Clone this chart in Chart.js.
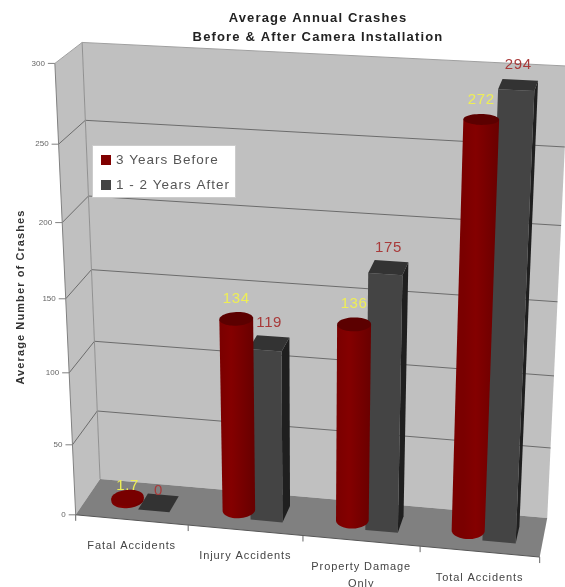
<!DOCTYPE html>
<html>
<head>
<meta charset="utf-8">
<title>Average Annual Crashes</title>
<script src="https://cdn.jsdelivr.net/npm/chart.js@4"></script>
<style>
  html, body { margin: 0; background: #fff; }
  canvas { display: block; }
</style>
</head>
<body>
<canvas id="myChart" width="565" height="587"></canvas>
<script>
// Chart data
const categories = ['Fatal Accidents', 'Injury Accidents', ['Property Damage', 'Only'], 'Total Accidents'];
const yearsBefore = [1.7, 134, 136, 272];
const yearsAfter = [0, 119, 175, 294];
const seriesNames = ['3 Years Before', '1 - 2 Years After'];
const chartTitle = ['Average Annual Crashes', 'Before & After Camera Installation'];
const yAxisTitle = 'Average Number of Crashes';

const FONT = '"Liberation Sans", Arial, sans-serif';

// Camera: box corners (u along categories, v up the value axis, w into the page) and where they land
const anchors = [
  [0, 0, 0, 76, 515], [1, 0, 0, 539, 557], [0, 1, 0, 56, 62],
  [0, 0, 1, 100, 478], [1, 0, 1, 547, 518], [0, 1, 1, 82, 43], [1, 1, 1, 567, 66],
  [0, .5, 0, 65, 300], [0, .5, 1, 91, 270], [1, .5, 1, 560, 302]
];

// Least squares fit of the 3x4 projection matrix
function solveCamera(points) {
  const n = 11;
  const A = Array.from({ length: n }, () => new Array(n + 1).fill(0));
  const addRow = (row, b) => {
    for (let i = 0; i < n; i++) {
      for (let j = 0; j < n; j++) A[i][j] += row[i] * row[j];
      A[i][n] += row[i] * b;
    }
  };
  points.forEach(([u, v, w, px, py]) => {
    const x = px / 500, y = py / 500;
    addRow([u, v, w, 1, 0, 0, 0, 0, -x * u, -x * v, -x * w], x);
    addRow([0, 0, 0, 0, u, v, w, 1, -y * u, -y * v, -y * w], y);
  });
  for (let c = 0; c < n; c++) {
    let best = c;
    for (let r = c + 1; r < n; r++) if (Math.abs(A[r][c]) > Math.abs(A[best][c])) best = r;
    [A[c], A[best]] = [A[best], A[c]];
    for (let r = 0; r < n; r++) {
      if (r === c) continue;
      const f = A[r][c] / A[c][c];
      for (let k = c; k <= n; k++) A[r][k] -= f * A[c][k];
    }
  }
  return A.map((row, i) => row[n] / row[i]);
}

const cam = solveCamera(anchors);

function project(u, v, w) {
  const d = cam[8] * u + cam[9] * v + cam[10] * w + 1;
  return {
    x: 500 * (cam[0] * u + cam[1] * v + cam[2] * w + cam[3]) / d,
    y: 500 * (cam[4] * u + cam[5] * v + cam[6] * w + cam[7]) / d
  };
}

function quad(ctx, pts, fill, stroke) {
  ctx.beginPath();
  pts.forEach((p, i) => { i ? ctx.lineTo(p.x, p.y) : ctx.moveTo(p.x, p.y); });
  ctx.closePath();
  if (fill) { ctx.fillStyle = fill; ctx.fill(); }
  if (stroke) { ctx.strokeStyle = stroke; ctx.lineWidth = 1; ctx.stroke(); }
}

function line(ctx, a, b, color) {
  ctx.beginPath();
  ctx.moveTo(a.x, a.y);
  ctx.lineTo(b.x, b.y);
  ctx.strokeStyle = color;
  ctx.lineWidth = 1;
  ctx.stroke();
}

function text(ctx, str, x, y, font, color, spacing, align) {
  ctx.font = font;
  ctx.fillStyle = color;
  ctx.letterSpacing = (spacing || 0) + 'px';
  ctx.textAlign = align || 'center';
  ctx.textBaseline = 'middle';
  ctx.fillText(str, x, y);
  ctx.letterSpacing = '0px';
}

// Bars stand in the middle of the floor depth
const BAR_FRONT = 0.28;
const BAR_BACK = 0.72;

function drawBox(ctx, u0, u1, v0, v1) {
  const f = BAR_FRONT, b = BAR_BACK;
  if (v1 > v0) {
    quad(ctx, [project(u1, v0, f), project(u1, v0, b), project(u1, v1, b), project(u1, v1, f)], '#1f1f1f');
    quad(ctx, [project(u0, v0, f), project(u1, v0, f), project(u1, v1, f), project(u0, v1, f)], '#444444');
  }
  quad(ctx, [project(u0, v1, f), project(u1, v1, f), project(u1, v1, b), project(u0, v1, b)], '#333333');
}

function ring(uc, ru, v) {
  const wc = (BAR_FRONT + BAR_BACK) / 2, rw = (BAR_BACK - BAR_FRONT) / 2, pts = [];
  for (let i = 0; i < 48; i++) {
    const a = i / 48 * Math.PI * 2;
    pts.push(project(uc + ru * Math.cos(a), v, wc + rw * Math.sin(a)));
  }
  return pts;
}

function drawCylinder(ctx, u0, u1, v0, v1) {
  const uc = (u0 + u1) / 2, ru = (u1 - u0) / 2;
  const bottom = ring(uc, ru, v0), top = ring(uc, ru, v1);
  const extreme = (pts, sign) => pts.reduce((m, p) => (sign * p.x > sign * m.x ? p : m));
  const bl = extreme(bottom, -1), br = extreme(bottom, 1);
  const tl = extreme(top, -1), tr = extreme(top, 1);

  // Body: down the left side, round the front of the base, up the right side
  const front = bottom.filter(p => p.y >= bl.y + (br.y - bl.y) * (p.x - bl.x) / (br.x - bl.x)).sort((a, b) => a.x - b.x);
  const grad = ctx.createLinearGradient(tl.x, 0, tr.x, 0);
  grad.addColorStop(0, '#7a0000');
  grad.addColorStop(0.35, '#840000');
  grad.addColorStop(1, '#690000');
  quad(ctx, [tl, bl, ...front, br, tr], grad);
  quad(ctx, top, v1 - v0 < 0.02 ? '#780000' : '#5c0000');
}

const scene3d = {
  id: 'scene3d',
  beforeDatasetsDraw(chart) {
    const ctx = chart.ctx;
    const area = chart.chartArea;
    const yScale = chart.scales.y;
    const toV = px => (area.bottom - px) / area.height;
    const toU = px => (px - area.left) / area.width;

    ctx.save();

    // Walls and floor
    quad(ctx, [project(0, 0, 1), project(1, 0, 1), project(1, 1, 1), project(0, 1, 1)], '#c0c0c0');
    quad(ctx, [project(0, 0, 0), project(0, 0, 1), project(0, 1, 1), project(0, 1, 0)], '#c0c0c0');
    quad(ctx, [project(0, 0, 0), project(1, 0, 0), project(1, 0, 1), project(0, 0, 1)], '#808080');

    // Value axis: gridlines, ticks and tick labels
    yScale.ticks.forEach(tick => {
      const v = toV(yScale.getPixelForValue(tick.value));
      const front = project(0, v, 0), back = project(0, v, 1), right = project(1, v, 1);
      if (tick.value > 0) {
        line(ctx, front, back, tick.value === 300 ? '#a0a0a0' : '#6c6c6c');
        line(ctx, back, right, tick.value === 300 ? '#a0a0a0' : '#6c6c6c');
      }
      line(ctx, { x: front.x - 7, y: front.y }, front, '#808080');
      text(ctx, tick.label, front.x - 10, front.y, '8px ' + FONT, '#666666', 0, 'right');
    });
    line(ctx, project(0, 0, 0), project(0, 1, 0), '#808080');
    line(ctx, project(0, 0, 1), project(0, 1, 1), '#909090');
    line(ctx, project(0, 0, 0), project(1, 0, 0), '#555555');

    // Category axis ticks and labels
    categories.forEach((cat, i) => {
      const a = project(i / categories.length, 0, 0);
      line(ctx, a, { x: a.x, y: a.y + 6 }, '#666666');
      const mid = project((i + 0.5) / categories.length, 0, 0);
      [].concat(cat).forEach((row, r) => {
        text(ctx, row, mid.x, mid.y + 26 + r * 17, '11px ' + FONT, '#444444', 0.9);
      });
    });
    const end = project(1, 0, 0);
    line(ctx, end, { x: end.x, y: end.y + 6 }, '#666666');

    // Bars, taken from the bar elements laid out by the chart scales
    const round = chart.getDatasetMeta(0).data;
    const square = chart.getDatasetMeta(1).data;
    const span = el => ({
      u0: toU(el.x - el.width / 2), u1: toU(el.x + el.width / 2),
      v0: toV(el.base), v1: toV(el.y)
    });
    categories.forEach((cat, i) => {
      const s = span(square[i]), c = span(round[i]);
      drawBox(ctx, s.u0, s.u1, s.v0, s.v1);
      drawCylinder(ctx, c.u0, c.u1, c.v0, c.v1);
    });

    // Value labels above each bar
    chart.data.datasets.forEach((ds, d) => {
      chart.getDatasetMeta(d).data.forEach((el, i) => {
        const s = span(el);
        const top = project((s.u0 + s.u1) / 2, s.v1, 0.5);
        const lift = ds.data[i] > 50 ? 20 : 12;
        text(ctx, String(ds.data[i]), top.x, top.y - lift, '15px ' + FONT, ds.labelColor, 0.6);
      });
    });

    // Axis title
    ctx.save();
    ctx.translate(21, 297);
    ctx.rotate(-Math.PI / 2);
    text(ctx, yAxisTitle, 0, 0, 'bold 11px ' + FONT, '#333333', 1.1);
    ctx.restore();

    // Legend box
    ctx.fillStyle = '#ffffff';
    ctx.strokeStyle = '#cccccc';
    ctx.lineWidth = 1;
    ctx.fillRect(92.5, 145.5, 143, 52);
    ctx.strokeRect(92.5, 145.5, 143, 52);
    chart.data.datasets.forEach((ds, d) => {
      const y = 160 + d * 25;
      ctx.fillStyle = ds.backgroundColor;
      ctx.fillRect(101, y - 5, 10, 10);
      text(ctx, ds.label, 116, y, '13.5px ' + FONT, '#555555', 1, 'left');
    });

    ctx.restore();
    // the bars are already drawn in perspective
    return false;
  }
};

new Chart(document.getElementById('myChart'), {
  type: 'bar',
  data: {
    labels: categories,
    datasets: [
      { label: seriesNames[0], data: yearsBefore, backgroundColor: '#800000', labelColor: '#eeee55' },
      { label: seriesNames[1], data: yearsAfter, backgroundColor: '#444444', labelColor: '#a83a3a' }
    ]
  },
  options: {
    responsive: false,
    animation: false,
    layout: { padding: { left: 71 } },
    datasets: { bar: { categoryPercentage: 0.56, barPercentage: 1 } },
    scales: {
      x: { display: false },
      y: { display: false, min: 0, max: 300, ticks: { stepSize: 50 } }
    },
    plugins: {
      legend: { display: false },
      tooltip: { enabled: false },
      title: {
        display: true,
        text: chartTitle,
        color: '#222222',
        font: { family: FONT, size: 13, weight: 'bold', lineHeight: 1.48 },
        padding: { top: 9, bottom: 0 }
      }
    }
  },
  plugins: [scene3d, {
    id: 'titleSpacing',
    beforeDraw(chart) { chart.ctx.letterSpacing = '1.15px'; },
    beforeDatasetsDraw(chart) { chart.ctx.letterSpacing = '0px'; }
  }]
});
</script>
</body>
</html>
